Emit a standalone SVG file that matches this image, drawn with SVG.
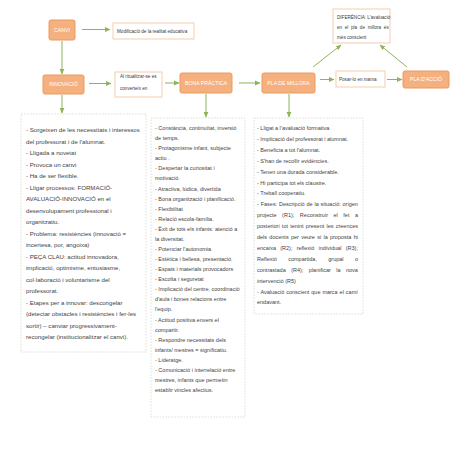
<svg xmlns="http://www.w3.org/2000/svg" width="453" height="453" viewBox="0 0 453 453">
<style>
.node rect{fill:#F5B07F;stroke:#EC9A5E;stroke-width:1}
.node text{font-family:"Liberation Sans",Arial,sans-serif;font-size:5.2px;fill:#ffffff;text-anchor:middle}
.note rect{fill:#ffffff;stroke:#F4C09A;stroke-width:0.8}
.note text{font-family:"Liberation Sans",Arial,sans-serif;font-size:4.6px;fill:#3a3a3a}
.box rect{fill:#ffffff;stroke:#D5D8CC;stroke-width:0.8;stroke-dasharray:1.6 1.4}
.box text{font-family:"Liberation Sans",Arial,sans-serif;fill:#3f3f3f}
.conn line{stroke:#8FB35A;stroke-width:1;marker-end:url(#ah)}
</style>
<defs>
<marker id="ah" markerUnits="userSpaceOnUse" markerWidth="6" markerHeight="6" viewBox="0 0 6 6" refX="5" refY="3" orient="auto">
<path d="M0,0.6 L5.5,3 L0,5.4 Z" fill="#8FB35A"/>
</marker>
</defs>
<rect width="453" height="453" fill="#ffffff"/>

<g id="connectors" class="conn">
<line x1="82" y1="29.5" x2="110" y2="29.5"/>
<line x1="62" y1="41" x2="62" y2="74"/>
<line x1="89" y1="83.5" x2="111" y2="83.5"/>
<line x1="165" y1="83" x2="179" y2="83"/>
<line x1="239" y1="83" x2="260" y2="83"/>
<line x1="320" y1="79.5" x2="334" y2="79.5"/>
<line x1="387" y1="79.5" x2="402" y2="79.5"/>
<line x1="313" y1="67" x2="341" y2="45"/>
<line x1="407" y1="67" x2="380" y2="45"/>
<line x1="62" y1="95" x2="62" y2="113"/>
<line x1="206" y1="94" x2="206" y2="117"/>
<line x1="289" y1="94" x2="289" y2="117"/>
</g>

<g id="canvi" class="node"><rect x="49" y="20" width="26" height="20" rx="2"/><text x="62" y="31.8">CANVI</text></g>
<g id="innovacio" class="node"><rect x="43" y="75" width="41" height="19" rx="2"/><text x="63.5" y="86.3">INNOVACIÓ</text></g>
<g id="bona-practica" class="node"><rect x="180" y="73" width="52" height="20" rx="2"/><text x="206" y="84.8">BONA PRÀCTICA</text></g>
<g id="pla-millora" class="node"><rect x="262" y="73" width="53" height="20" rx="2"/><text x="288.5" y="84.8">PLA DE MILLORA</text></g>
<g id="pla-accio" class="node"><rect x="403" y="71" width="46" height="17" rx="2"/><text x="426" y="81.3">PLA D'ACCIÓ</text></g>

<g id="modificacio" class="note"><rect x="113" y="23" width="81" height="16"/><text x="117" y="33">Modificació de la realitat educativa</text></g>
<g id="ritualitzar" class="note"><rect x="115" y="72" width="47" height="25"/><text x="120" y="77.6">Al ritualitzar-se es</text><text x="120" y="89.6">converteix en</text></g>
<g id="posar" class="note"><rect x="336" y="71" width="49" height="16"/><text x="339" y="80.6">Posar-lo en marxa</text></g>
<g id="diferencia" class="note"><rect x="333" y="9" width="57" height="34"/>
<text x="337" y="18.6" font-size="4.2">DIFERÈNCIA: L'avaluació</text>
<text x="337" y="28.6" font-size="4.2" word-spacing="1.4">en el pla de millora és</text>
<text x="337" y="38.6" font-size="4.2">més conscient</text></g>

<g id="innovacio-text" class="box"><rect x="21" y="114" width="125" height="238"/>
<text font-size="6.1">
<tspan x="26" y="132.2">- Sorgeixen de les necessitats i interessos</tspan>
<tspan x="26" y="143.7">del professorat i de l'alumnat.</tspan>
<tspan x="26" y="155.2">- Lligada a novetat</tspan>
<tspan x="26" y="166.7">- Provoca un canvi</tspan>
<tspan x="26" y="178.2">- Ha de ser flexible.</tspan>
<tspan x="26" y="189.7">- Lligar processos: FORMACIÓ-</tspan>
<tspan x="26" y="201.2">AVALUACIÓ-INNOVACIÓ en el</tspan>
<tspan x="26" y="212.7">desenvolupament professional i</tspan>
<tspan x="26" y="224.2">organitzatiu.</tspan>
<tspan x="26" y="235.7">- Problema: resistències (innovació =</tspan>
<tspan x="26" y="247.2">incertesa, por, angoixa)</tspan>
<tspan x="26" y="258.7">- PEÇA CLAU: actitud innovadora,</tspan>
<tspan x="26" y="270.2">implicació, optimisme, entusiasme,</tspan>
<tspan x="26" y="281.7">col·laboració i voluntarisme del</tspan>
<tspan x="26" y="293.2">professorat.</tspan>
<tspan x="26" y="304.7">- Etapes per a innovar: descongelar</tspan>
<tspan x="26" y="316.2">(detectar obstacles i resistències i fer-les</tspan>
<tspan x="26" y="327.7">sortir) – canviar progressivament-</tspan>
<tspan x="26" y="339.2">recongelar (institucionalitzar el canvi).</tspan>
</text></g>

<g id="bona-practica-text" class="box"><rect x="151" y="118" width="94" height="299"/>
<text font-size="5.5">
<tspan x="155" y="130">- Constància, continuïtat, inversió</tspan>
<tspan x="155" y="140.1">de temps.</tspan>
<tspan x="155" y="150.2">- Protagonisme infant, subjecte</tspan>
<tspan x="155" y="160.2">actiu .</tspan>
<tspan x="155" y="170.3">- Despertar la curiositat i</tspan>
<tspan x="155" y="180.4">motivació.</tspan>
<tspan x="155" y="190.5">- Atractiva, lúdica, divertida</tspan>
<tspan x="155" y="200.6">- Bona organització i planificació.</tspan>
<tspan x="155" y="210.6">- Flexibilitat</tspan>
<tspan x="155" y="220.7">- Relació escola-família.</tspan>
<tspan x="155" y="230.8">- Èxit de tots els infants: atenció a</tspan>
<tspan x="155" y="240.9">la diversitat.</tspan>
<tspan x="155" y="251">- Potenciar l'autonomia</tspan>
<tspan x="155" y="261">- Estètica i bellesa, presentació.</tspan>
<tspan x="155" y="271.1">- Espais i materials provocadors</tspan>
<tspan x="155" y="281.2">- Escolta i seguretat</tspan>
<tspan x="155" y="291.3">- Implicació del centre, coordinació</tspan>
<tspan x="155" y="301.4">d'aula i bones relacions entre</tspan>
<tspan x="155" y="311.4">l'equip.</tspan>
<tspan x="155" y="321.5">- Actitud positiva envers el</tspan>
<tspan x="155" y="331.6">compartir.</tspan>
<tspan x="155" y="341.7">- Respondre necessitats dels</tspan>
<tspan x="155" y="351.8">infants/ mestres = significatiu.</tspan>
<tspan x="155" y="361.8">- Lideratge.</tspan>
<tspan x="155" y="371.9">- Comunicació i interrelació entre</tspan>
<tspan x="155" y="382">mestres, infants que permetin</tspan>
<tspan x="155" y="392.1">establir vincles afectius.</tspan>
</text></g>

<g id="pla-millora-text" class="box"><rect x="254" y="118" width="109" height="196"/>
<g font-size="5.5">
<text x="257" y="130">- Lligat a l'avaluació formativa</text>
<text x="257" y="140.9">- Implicació del professorat i alumnat.</text>
<text x="257" y="151.8">- Beneficia a tot l'alumnat.</text>
<text x="257" y="162.7">- S'han de recollir evidències.</text>
<text x="257" y="173.6">- Tenen una durada considerable.</text>
<text x="257" y="184.5">- Hi participa tot els claustre.</text>
<text x="257" y="195.4">- Treball cooperatiu.</text>
<text x="257" y="206.3" word-spacing="0.3">- Fases: Descripció de la situació: origen</text>
<text x="257" y="217.2" word-spacing="4">projecte (R1); Reconstruir el fet a</text>
<text x="257" y="228.1" word-spacing="0.7">posteriori tot tenint present les creences</text>
<text x="257" y="239" word-spacing="0.75">dels docents per veure si la proposta hi</text>
<text x="257" y="249.9" word-spacing="2.7">encaixa (R2); reflexió individual (R3);</text>
<text x="257" y="260.8" word-spacing="9.8">Reflexió compartida, grupal o</text>
<text x="257" y="271.7" word-spacing="3.9">contrastada (R4); planificar la nova</text>
<text x="257" y="282.6">intervenció (R5)</text>
<text x="257" y="293.5" word-spacing="0.4">- Avaluació conscient que marca el camí</text>
<text x="257" y="304.4">endavant.</text>
</g></g>
</svg>
